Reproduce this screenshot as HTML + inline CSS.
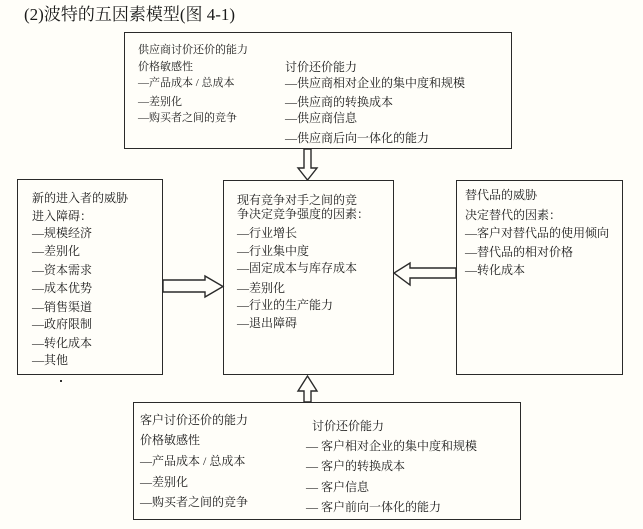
<!DOCTYPE html>
<html><head><meta charset="utf-8"><style>
body{margin:0;width:643px;height:529px;background:#fffef9;position:relative;overflow:hidden;font-family:"Liberation Serif","Noto Serif CJK SC","Noto Sans CJK SC",serif;color:#1a1a1a}
.b{position:absolute;border:1.5px solid #2a2a2a;box-sizing:border-box}
.t{position:absolute;font-size:12px;white-space:nowrap;line-height:14px;transform:translateY(-7px)}
.s{font-size:11px}
</style></head><body>
<div class="t" style="left:24px;top:14px;font-size:17px;line-height:19px;transform:translateY(-9px)">(2)波特的五因素模型(图 4-1)</div>

<div class="b" style="left:124px;top:32px;width:388px;height:117px"></div>
<div class="t s" style="left:138px;top:50px">供应商讨价还价的能力</div>
<div class="t s" style="left:138px;top:67px">价格敏感性</div>
<div class="t s" style="left:138px;top:83px">—产品成本 / 总成本</div>
<div class="t s" style="left:138px;top:102px">—差别化</div>
<div class="t s" style="left:138px;top:118px">—购买者之间的竞争</div>
<div class="t" style="left:285px;top:67px">讨价还价能力</div>
<div class="t" style="left:285px;top:83px">—供应商相对企业的集中度和规模</div>
<div class="t" style="left:285px;top:102px">—供应商的转换成本</div>
<div class="t" style="left:285px;top:118px">—供应商信息</div>
<div class="t" style="left:285px;top:138px">—供应商后向一体化的能力</div>

<div class="b" style="left:17px;top:179px;width:146px;height:196px"></div>
<div class="t" style="left:32px;top:198px">新的进入者的威胁</div>
<div class="t" style="left:32px;top:216px">进入障碍：</div>
<div class="t" style="left:32px;top:233px">—规模经济</div>
<div class="t" style="left:32px;top:251px">—差别化</div>
<div class="t" style="left:32px;top:270px">—资本需求</div>
<div class="t" style="left:32px;top:288px">—成本优势</div>
<div class="t" style="left:32px;top:307px">—销售渠道</div>
<div class="t" style="left:32px;top:324px">—政府限制</div>
<div class="t" style="left:32px;top:343px">—转化成本</div>
<div class="t" style="left:32px;top:360px">—其他</div>
<div style="position:absolute;left:60px;top:380px;width:2px;height:2px;background:#333"></div>

<div class="b" style="left:223px;top:180px;width:171px;height:195px"></div>
<div class="t" style="left:237px;top:200px">现有竞争对手之间的竞</div>
<div class="t" style="left:237px;top:214px">争决定竞争强度的因素：</div>
<div class="t" style="left:237px;top:233px">—行业增长</div>
<div class="t" style="left:237px;top:251px">—行业集中度</div>
<div class="t" style="left:237px;top:268px">—固定成本与库存成本</div>
<div class="t" style="left:237px;top:288px">—差别化</div>
<div class="t" style="left:237px;top:305px">—行业的生产能力</div>
<div class="t" style="left:237px;top:323px">—退出障碍</div>

<div class="b" style="left:456px;top:180px;width:167px;height:195px"></div>
<div class="t" style="left:465px;top:195px">替代品的威胁</div>
<div class="t" style="left:465px;top:215px">决定替代的因素：</div>
<div class="t" style="left:465px;top:233px">—客户对替代品的使用倾向</div>
<div class="t" style="left:465px;top:252px">—替代品的相对价格</div>
<div class="t" style="left:465px;top:270px">—转化成本</div>

<div class="b" style="left:133px;top:402px;width:388px;height:118px"></div>
<div class="t" style="left:140px;top:420px">客户讨价还价的能力</div>
<div class="t" style="left:140px;top:440px">价格敏感性</div>
<div class="t" style="left:140px;top:461px">—产品成本 / 总成本</div>
<div class="t" style="left:140px;top:482px">—差别化</div>
<div class="t" style="left:140px;top:502px">—购买者之间的竞争</div>
<div class="t" style="left:312px;top:426px">讨价还价能力</div>
<div class="t" style="left:306px;top:446px">— 客户相对企业的集中度和规模</div>
<div class="t" style="left:306px;top:466px">— 客户的转换成本</div>
<div class="t" style="left:306px;top:487px">— 客户信息</div>
<div class="t" style="left:306px;top:507px">— 客户前向一体化的能力</div>

<svg width="643" height="529" style="position:absolute;left:0;top:0" fill="#fffef9" stroke="#2a2a2a" stroke-width="1.4">
<polygon points="304,149 311,149 311,168 317,168 307.5,180 298,168 304,168"/>
<polygon points="163,280 205,280 205,276 223,286.5 205,297 205,292 163,292"/>
<polygon points="456,268 410,268 410,263 394,273 410,285 410,278 456,278"/>
<polygon points="304,402 304,391 298,391 307.5,376 317,391 311,391 311,402"/>
</svg>
</body></html>
